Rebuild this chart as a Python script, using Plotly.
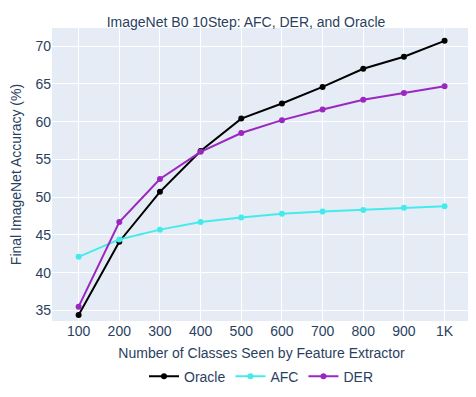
import plotly.graph_objects as go

classes = [100, 200, 300, 400, 500, 600, 700, 800, 900, 1000]
tick_labels = ["100", "200", "300", "400", "500", "600", "700", "800", "900", "1K"]

oracle = [34.4, 44.1, 50.7, 56.1, 60.4, 62.4, 64.6, 67.0, 68.6, 70.7]
afc = [42.1, 44.4, 45.7, 46.7, 47.3, 47.8, 48.1, 48.3, 48.6, 48.8]
der = [35.5, 46.7, 52.4, 56.0, 58.5, 60.2, 61.6, 62.9, 63.8, 64.7]

fig = go.Figure()
for name, vals, color in [("Oracle", oracle, "black"),
                          ("AFC", afc, "#45EBEB"),
                          ("DER", der, "#9A28C0")]:
    fig.add_trace(go.Scatter(x=classes, y=vals, mode="lines+markers", name=name,
                             line=dict(color=color, width=2), marker=dict(size=6)))

fig.update_layout(
    width=476, height=397,
    margin=dict(l=44, r=13, t=20, b=71),
    font=dict(family="Liberation Sans, Arial", size=14, color="#2a3f5f"),
    title=dict(text="ImageNet B0 10Step: AFC, DER, and Oracle", x=0.5, xanchor="center",
               y=0.964, yanchor="middle", font=dict(size=14)),
    xaxis=dict(title=dict(text="Number of Classes Seen by Feature Extractor", standoff=10,
                          font=dict(size=14)),
               tickvals=classes, ticktext=tick_labels, range=[34.5, 1065], automargin=False),
    yaxis=dict(title=dict(text="Final ImageNet Accuracy (%)", font=dict(size=14)),
               range=[33.6, 72.4], dtick=5, automargin=False),
    legend=dict(orientation="h", x=0.5, xanchor="center", y=-0.19, yanchor="middle"),
    template="plotly",
)

fig.write_html("out.html")
